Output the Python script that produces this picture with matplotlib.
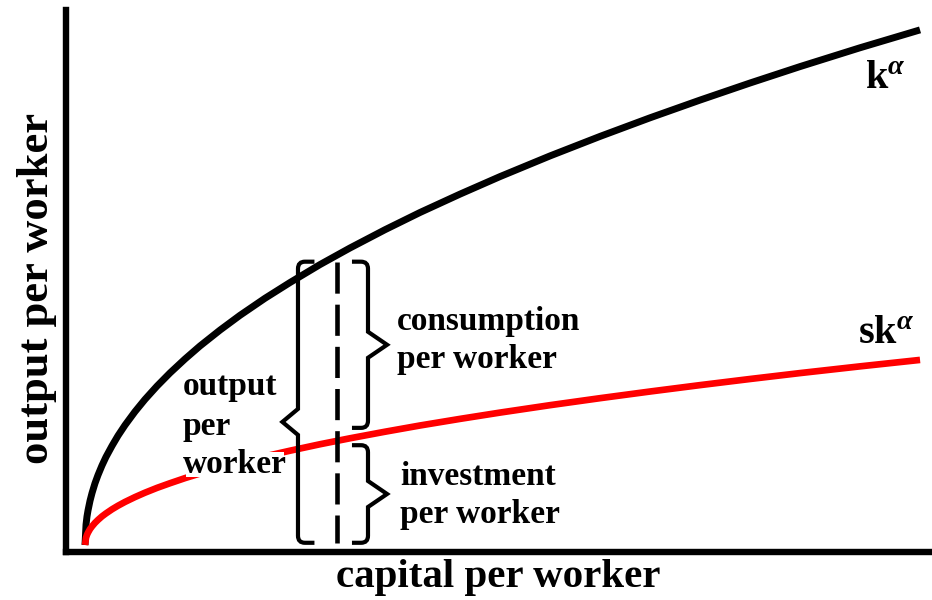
import numpy as np
import matplotlib
matplotlib.use('Agg')
import matplotlib.pyplot as plt
from matplotlib.path import Path
from matplotlib.patches import PathPatch

# valores (unidades arbitrarias, ejes 0-10)
capital = [0.225, 0.237, 0.248, 0.260, 0.283, 0.306, 0.340, 0.375, 0.421, 0.467,
           0.537, 0.606, 0.687, 0.802, 0.917, 1.056, 1.206, 1.379, 1.552, 1.783,
           2.014, 2.302, 2.591, 2.937, 3.283, 3.687, 4.091, 4.553, 5.014, 5.592,
           6.169, 6.746, 7.323, 7.900, 8.477, 9.169, 9.862]
output = [0.129, 0.506, 0.655, 0.768, 0.945, 1.087, 1.266, 1.419, 1.596, 1.753,
          1.959, 2.146, 2.341, 2.590, 2.815, 3.061, 3.304, 3.561, 3.801, 4.094,
          4.367, 4.681, 4.972, 5.303, 5.609, 5.946, 6.264, 6.603, 6.926, 7.308,
          7.668, 8.011, 8.338, 8.653, 8.956, 9.303, 9.633]
investment = [0.129, 0.264, 0.317, 0.358, 0.423, 0.473, 0.537, 0.592, 0.657, 0.712,
              0.788, 0.854, 0.924, 1.013, 1.094, 1.183, 1.269, 1.363, 1.448, 1.554,
              1.651, 1.765, 1.869, 1.988, 2.098, 2.219, 2.334, 2.456, 2.572, 2.709,
              2.838, 2.961, 3.079, 3.192, 3.301, 3.425, 3.544]
k_star = 3.133

plt.rcParams['font.family'] = ['Liberation Serif', 'DejaVu Serif']
plt.rcParams['font.weight'] = 'bold'
plt.rcParams['mathtext.fontset'] = 'custom'
plt.rcParams['mathtext.rm'] = 'Liberation Serif'
plt.rcParams['mathtext.bf'] = 'Liberation Serif:bold'
plt.rcParams['mathtext.it'] = 'Liberation Serif:italic'


def brace(ax, x, y0, y1, ytip, side, hook=0.19, depth=0.2, half=0.24, rx=0.08, ry=0.13):
    # side=-1: punta a la izquierda, side=+1: punta a la derecha
    h = -side
    verts = [(x + h * hook, y1), (x + h * rx, y1), (x, y1), (x, y1 - ry),
             (x, ytip + half), (x + side * depth, ytip), (x, ytip - half),
             (x, y0 + ry), (x, y0), (x + h * rx, y0), (x + h * hook, y0)]
    codes = [Path.MOVETO, Path.LINETO, Path.CURVE3, Path.CURVE3,
             Path.LINETO, Path.LINETO, Path.LINETO,
             Path.LINETO, Path.CURVE3, Path.CURVE3, Path.LINETO]
    ax.add_patch(PathPatch(Path(verts, codes), facecolor='none', edgecolor='black',
                           lw=3, joinstyle='miter', capstyle='butt', zorder=3))


fig = plt.figure(figsize=(9.32, 6), dpi=100)
ax = fig.add_axes([65.5 / 932, 48 / 600, 866.5 / 932, 542 / 600])
ax.set_xlim(0, 10)
ax.set_ylim(0, 10)
ax.set_xticks([])
ax.set_yticks([])
for s in ['top', 'right']:
    ax.spines[s].set_visible(False)
for s in ['left', 'bottom']:
    ax.spines[s].set_linewidth(4.6)
    ax.spines[s].set_capstyle('projecting')

ax.plot(capital, output, color='black', lw=5, solid_capstyle='butt',
        solid_joinstyle='round', clip_on=False, zorder=2)
ax.plot(capital, investment, color='#ff0000', lw=4.8, solid_capstyle='butt',
        solid_joinstyle='round', clip_on=False, zorder=2)

y_out = np.interp(k_star, capital, output)
y_inv = np.interp(k_star, capital, investment)
top = y_out - 0.12
bot = 0.17

ax.plot([k_star, k_star], [top, bot], color='black', lw=3.3,
        linestyle=(0, (6.8, 2.4)), dash_capstyle='butt', zorder=3)

brace(ax, 2.683, bot, top, 2.40, -1, hook=0.19, depth=0.18)
brace(ax, 3.491, y_inv + 0.24, top, (y_inv + 0.24 + top) / 2, 1, hook=0.185, depth=0.22)
brace(ax, 3.491, bot, y_inv - 0.08, (bot + y_inv - 0.08) / 2, 1, hook=0.185, depth=0.22)

fs = 24
ax.text(1.356, 2.897, 'output', fontsize=fs, va='baseline', zorder=4)
ax.text(1.356, 2.159, 'per', fontsize=fs, va='baseline', zorder=4)
ax.text(1.356, 1.458, 'worker', fontsize=fs, va='baseline', zorder=4,
        bbox=dict(boxstyle='square,pad=-0.1', facecolor='white', edgecolor='none'))
ax.text(3.826, 4.096, 'consumption', fontsize=fs, va='baseline')
ax.text(3.826, 3.395, 'per worker', fontsize=fs, va='baseline')
ax.text(3.860, 1.236, 'investment', fontsize=fs, va='baseline')
ax.text(3.860, 0.535, 'per worker', fontsize=fs, va='baseline')

ax.text(9.227, 8.561, r'$\mathbf{k}^{\alpha}$', fontsize=29, va='baseline')
ax.text(9.146, 3.856, r'$\mathbf{sk}^{\alpha}$', fontsize=29, va='baseline')

fig.text(37 / 932, 1 - 288 / 600, 'output per worker', rotation=90, ha='center', va='center',
         fontsize=32)
fig.text(498 / 932, 1 - 577 / 600, 'capital per worker', ha='center', va='center',
         fontsize=29.5)

fig.savefig('out.png', dpi=100)
